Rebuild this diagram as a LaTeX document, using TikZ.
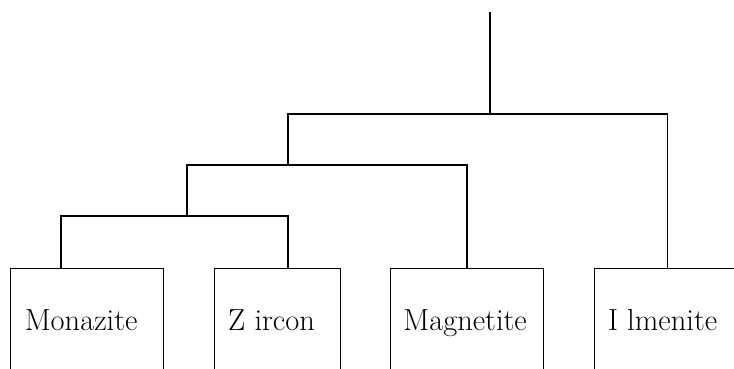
\documentclass[tikz,border=0pt]{standalone}
\begin{document}
\begin{tikzpicture}[x=1pt,y=-1pt,
  mineral/.style={draw, line width=1.2pt, minimum height=112pt, inner sep=0pt,
    text height=21pt, text depth=9pt,
    font=\fontsize{30.5}{34}\selectfont, anchor=north west},
  link/.style={line width=1.3pt}]
\useasboundingbox (0,0) rectangle (734,368);
\clip (0,0) rectangle (734,368);
\node[mineral, minimum width=153pt] (mon) at (10,268) {\hspace*{-12pt}Monazite};
\node[mineral, minimum width=126pt] (zir) at (214,268) {\hspace*{-12pt}Z ircon};
\node[mineral, minimum width=153pt] (mag) at (390,268) {\hspace*{-4pt}Magnetite};
\node[mineral, minimum width=146pt] (ilm) at (594,268) {\hspace*{-10pt}I lmenite};
\coordinate (root) at (490,12);
\coordinate (n1) at (490,114);
\coordinate (n2) at (288,165);
\coordinate (n3) at (187,216);
\draw[link] (root) -- (n1);
\draw[link] (ilm.north) |- (n2 |- n1) -- (n2);
\draw[link] (mag.north) |- (n3 |- n2) -- (n3);
\draw[link] ([xshift=51pt]mon.north west) |- (n3) -| ([xshift=74pt]zir.north west);
\end{tikzpicture}
\end{document}
